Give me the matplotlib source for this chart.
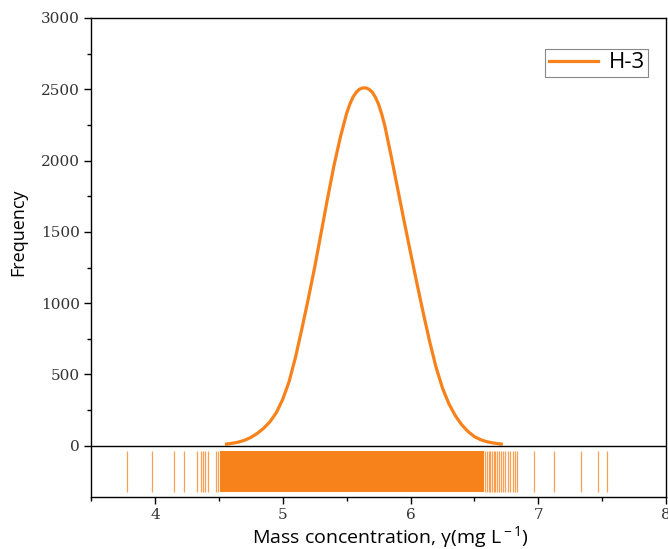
import matplotlib
matplotlib.use("Agg")
import matplotlib.pyplot as plt
from matplotlib.ticker import FixedLocator

# density curve
curve_x = [4.56, 4.60, 4.65, 4.70, 4.75, 4.80, 4.85, 4.90, 4.95, 5.00, 5.05,
           5.10, 5.15, 5.20, 5.25, 5.30, 5.35, 5.40, 5.45, 5.50, 5.525, 5.55,
           5.575, 5.60, 5.625, 5.65, 5.675, 5.70, 5.725, 5.75, 5.775, 5.80,
           5.85, 5.90, 5.95, 6.00, 6.05, 6.10, 6.15, 6.20, 6.25, 6.30, 6.35,
           6.40, 6.45, 6.50, 6.55, 6.60, 6.65, 6.71]
curve_y = [12, 17, 25, 38, 58, 86, 122, 168, 232, 325, 450,
           620, 820, 1030, 1250, 1490, 1730, 1960, 2160, 2330, 2395, 2445,
           2478, 2500, 2509, 2510, 2500, 2480, 2445, 2395, 2325, 2240,
           2025, 1800, 1575, 1355, 1140, 930, 730, 550, 405, 295, 212,
           148, 100, 64, 42, 28, 19, 12]

# single rug lines outside the solid block
rug_x = [3.78, 3.978, 4.153, 4.229, 4.329, 4.36, 4.378, 4.394, 4.412, 4.475,
         4.49, 6.585, 6.598, 6.611, 6.624, 6.637, 6.65, 6.663, 6.676, 6.694,
         6.707, 6.72, 6.741, 6.759, 6.777, 6.798, 6.816, 6.832, 6.966, 7.122,
         7.334, 7.464, 7.536]
# solid block of rug lines
rug_dense = [4.51, 6.575]
rug_span = [-322, -35]

orange = "#f7811a"

plt.rcParams["mathtext.fontset"] = "custom"
plt.rcParams["mathtext.rm"] = "Open Sans"
plt.rcParams["mathtext.it"] = "Open Sans"

fig = plt.figure(figsize=(6.68, 5.49), dpi=100)
ax = fig.add_axes([0.1362, 0.0953, 0.861, 0.872])

ax.plot(curve_x, curve_y, color=orange, lw=2.3, label="H-3",
        solid_joinstyle="round")
ax.vlines(rug_x, rug_span[0], rug_span[1], color=orange, lw=0.9, alpha=0.75)
ax.fill_between(rug_dense, rug_span[0], rug_span[1], color=orange, lw=0)
ax.axhline(0, color="black", lw=1.0)

ax.set_xlim(3.5, 8)
ax.set_ylim(-357, 3000)
ax.yaxis.set_major_locator(FixedLocator([0, 500, 1000, 1500, 2000, 2500, 3000]))
ax.yaxis.set_minor_locator(FixedLocator([250, 750, 1250, 1750, 2250, 2750]))
ax.xaxis.set_major_locator(FixedLocator([4, 5, 6, 7, 8]))
ax.xaxis.set_minor_locator(FixedLocator([3.5, 4.5, 5.5, 6.5, 7.5]))
ax.tick_params(which="major", direction="out", length=5, width=1, pad=3)
ax.tick_params(which="minor", direction="out", length=3, width=1)

for lab in ax.get_xticklabels() + ax.get_yticklabels():
    lab.set_family("DejaVu Serif")
    lab.set_fontsize(11)
    lab.set_color("#333333")

for s in ax.spines.values():
    s.set_linewidth(1.0)

ax.set_ylabel("Frequency", family="Open Sans", fontsize=13)
ax.yaxis.set_label_coords(-0.11, 0.553)
ax.set_xlabel(r"Mass concentration, γ(mg L$^{\rm -1}$)", family="Open Sans",
              fontsize=14)
ax.xaxis.set_label_coords(0.52, -0.057)

leg = ax.legend(loc="upper right", bbox_to_anchor=(0.9687, 0.935), borderaxespad=0,
                fancybox=False, edgecolor="#888888", framealpha=1,
                prop={"family": "Open Sans", "size": 16}, handlelength=2.2,
                handletextpad=0.5, borderpad=0.15)
leg.get_frame().set_linewidth(0.8)

fig.savefig("out.png", dpi=100)
